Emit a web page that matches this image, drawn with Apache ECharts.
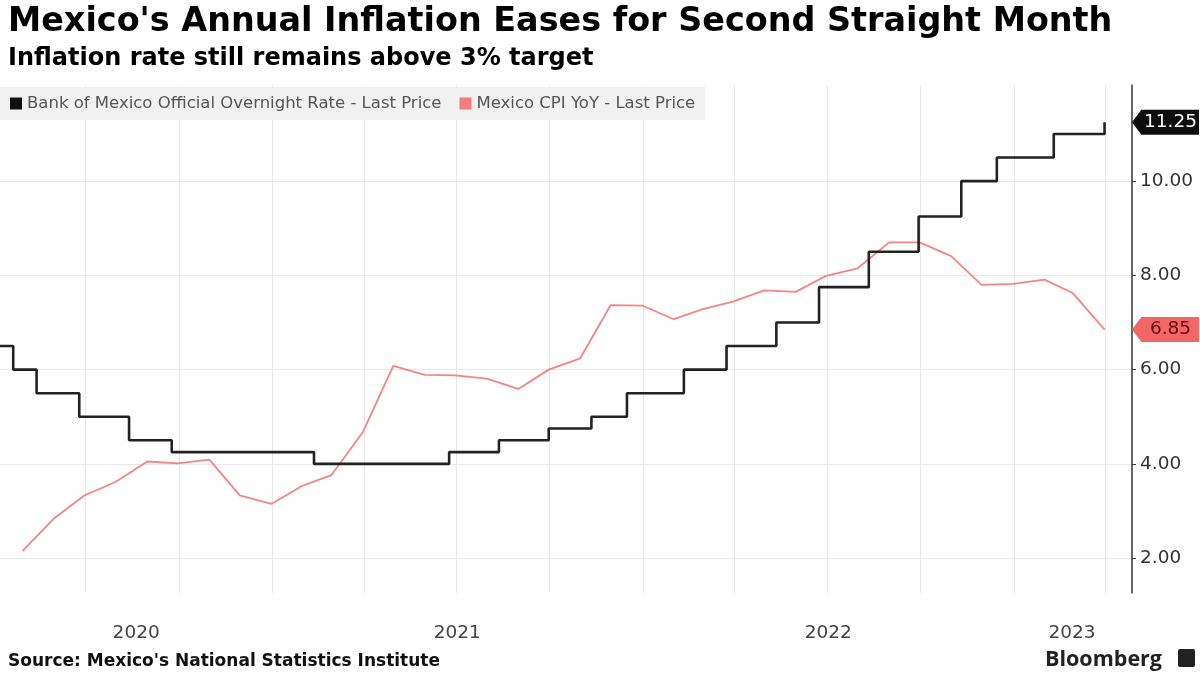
<!DOCTYPE html>
<html>
<head>
<meta charset="utf-8">
<script src="https://cdn.jsdelivr.net/npm/echarts@6/dist/echarts.min.js"></script>
<style>
  html, body { margin: 0; padding: 0; background: #fff; }
  #chart { width: 1200px; height: 674px; }
</style>
</head>
<body>
<div id="chart"></div>
<script>
const titleText = "Mexico's Annual Inflation Eases for Second Straight Month";
const subtitleText = "Inflation rate still remains above 3% target";
const sourceText = "Source: Mexico's National Statistics Institute";
const brandText = "Bloomberg";

const rateName = "Bank of Mexico Official Overnight Rate - Last Price";
const cpiName = "Mexico CPI YoY - Last Price";

// Policy rate decision dates and new levels
const rateDates = ['2020-03-20','2020-04-21','2020-05-14','2020-06-25','2020-08-13','2020-09-24',
  '2021-02-11','2021-06-24','2021-08-12','2021-09-30','2021-11-11','2021-12-16',
  '2022-02-10','2022-03-24','2022-05-12','2022-06-23','2022-08-11','2022-09-29','2022-11-10','2022-12-15',
  '2023-02-09','2023-03-31'];
const rateValues = [6.5, 6.0, 5.5, 5.0, 4.5, 4.25,
  4.0, 4.25, 4.5, 4.75, 5.0, 5.5,
  6.0, 6.5, 7.0, 7.75, 8.5, 9.25, 10.0, 10.5,
  11.0, 11.25];

// Monthly CPI YoY
const cpiDates = ['2020-04-30','2020-05-31','2020-06-30','2020-07-31','2020-08-31','2020-09-30','2020-10-31','2020-11-30','2020-12-31',
  '2021-01-31','2021-02-28','2021-03-31','2021-04-30','2021-05-31','2021-06-30','2021-07-31','2021-08-31','2021-09-30','2021-10-31','2021-11-30','2021-12-31',
  '2022-01-31','2022-02-28','2022-03-31','2022-04-30','2022-05-31','2022-06-30','2022-07-31','2022-08-31','2022-09-30','2022-10-31','2022-11-30','2022-12-31',
  '2023-01-31','2023-02-28','2023-03-31'];
const cpiValues = [2.15, 2.84, 3.33, 3.62, 4.05, 4.01, 4.09, 3.33, 3.15,
  3.54, 3.76, 4.67, 6.08, 5.89, 5.88, 5.81, 5.59, 6.00, 6.24, 7.37, 7.36,
  7.07, 7.28, 7.45, 7.68, 7.65, 7.99, 8.15, 8.70, 8.70, 8.41, 7.80, 7.82,
  7.91, 7.62, 6.85];

const xMin = '2020-04-08';
const xMax = '2023-04-27';
const quarterDates = ['2020-07-01','2020-10-01','2021-01-01','2021-04-01','2021-07-01','2021-10-01',
  '2022-01-01','2022-04-01','2022-07-01','2022-10-01','2023-01-01','2023-04-01'];
const yearLabelDates = ['2020-08-20','2021-07-02','2022-07-02','2023-02-27'];
const yTicks = [2, 4, 6, 8, 10];
const yMin = 1.26, yMax = 12.04;

const ts = s => new Date(s + 'T00:00:00').getTime();

const chart = echarts.init(document.getElementById('chart'), null, {renderer: 'canvas'});
const FONT = 'DejaVu Sans';
const badgePath = 'path://M0,50 L14,0 L100,0 L100,100 L14,100 Z';

const option = {
  animation: false,
  backgroundColor: '#ffffff',
  textStyle: { fontFamily: FONT },
  title: [
    { text: titleText, left: 3, top: 1, textStyle: { fontFamily: FONT, fontWeight: 'bold', fontSize: 33.4, color: '#000' } },
    { text: subtitleText, left: 3, top: 42, textStyle: { fontFamily: FONT, fontWeight: 'bold', fontSize: 24, color: '#000' } },
    { text: sourceText, left: 3, top: 648, textStyle: { fontFamily: FONT, fontWeight: 'bold', fontSize: 17, color: '#111' } },
    { text: brandText, right: 33, top: 644, textStyle: { fontFamily: 'Open Sans', fontWeight: 'bold', fontSize: 21.5, color: '#222' } }
  ],
  graphic: [
    { type: 'rect', right: 5, top: 649, shape: { width: 17, height: 18, r: 2 }, style: { fill: '#222' } }
  ],
  legend: {
    left: 0, top: 87, z: 10,
    backgroundColor: '#f1f1f1',
    padding: [8, 10, 8, 10],
    itemGap: 18,
    itemWidth: 12, itemHeight: 12,
    icon: 'rect',
    data: [rateName, cpiName],
    textStyle: { color: '#555', fontSize: 16.5, fontFamily: FONT }
  },
  grid: { left: 0, right: 68, top: 85, bottom: 81, containLabel: false },
  xAxis: {
    type: 'value',
    min: ts(xMin), max: ts(xMax),
    axisLine: { show: false },
    axisTick: { show: false },
    splitLine: { show: false },
    axisLabel: {
      customValues: yearLabelDates.map(ts),
      formatter: v => String(new Date(v).getFullYear()),
      color: '#444', fontSize: 18.5, margin: 31, fontFamily: FONT
    }
  },
  yAxis: {
    type: 'value',
    position: 'right',
    min: yMin, max: yMax,
    axisLine: { show: true, lineStyle: { color: '#333', width: 1.5 } },
    axisTick: { show: true, customValues: yTicks, length: 4, lineStyle: { color: '#333' } },
    splitLine: { show: true, lineStyle: { color: '#e9e9e9', width: 1 } },
    axisLabel: {
      customValues: yTicks,
      formatter: v => v.toFixed(2),
      color: '#333', fontSize: 18.5, margin: 8, fontFamily: FONT
    }
  },
  series: [
    {
      name: '_grid', type: 'line', data: [], z: 1, silent: true,
      markLine: {
        z: 1,
        silent: true, symbol: 'none', animation: false,
        label: { show: false },
        lineStyle: { color: '#e9e9e9', type: 'solid', width: 1 },
        data: quarterDates.map(d => ({ xAxis: ts(d) }))
      }
    },
    {
      name: cpiName, type: 'line', z: 3,
      data: cpiDates.map((d, i) => [ts(d), cpiValues[i]]),
      showSymbol: false, symbol: 'none',
      itemStyle: { color: '#f47c7c' },
      lineStyle: { color: '#f58585', width: 1.8 },
      markPoint: {
        symbol: badgePath, symbolSize: [67, 25], symbolOffset: [33.5, 0], symbolKeepAspect: false,
        itemStyle: { color: '#f06767' },
        label: { show: true, color: '#6b0a0a', fontSize: 18.5, fontFamily: FONT, offset: [5, 0],
          formatter: p => p.value.toFixed(2) },
        data: [{ coord: [ts(xMax), cpiValues[cpiValues.length - 1]], value: cpiValues[cpiValues.length - 1] }]
      }
    },
    {
      name: rateName, type: 'line', z: 4,
      step: 'end',
      data: rateDates.map((d, i) => [ts(d), rateValues[i]]),
      showSymbol: false, symbol: 'none',
      itemStyle: { color: '#111' },
      lineStyle: { color: '#222', width: 2.6 },
      markPoint: {
        symbol: badgePath, symbolSize: [67, 25], symbolOffset: [33.5, 0], symbolKeepAspect: false,
        itemStyle: { color: '#0d0d0d' },
        label: { show: true, color: '#fff', fontSize: 18.5, fontFamily: FONT, offset: [5, 0],
          formatter: p => p.value.toFixed(2) },
        data: [{ coord: [ts(xMax), rateValues[rateValues.length - 1]], value: rateValues[rateValues.length - 1] }]
      }
    }
  ]
};
chart.setOption(option);
</script>
</body>
</html>
